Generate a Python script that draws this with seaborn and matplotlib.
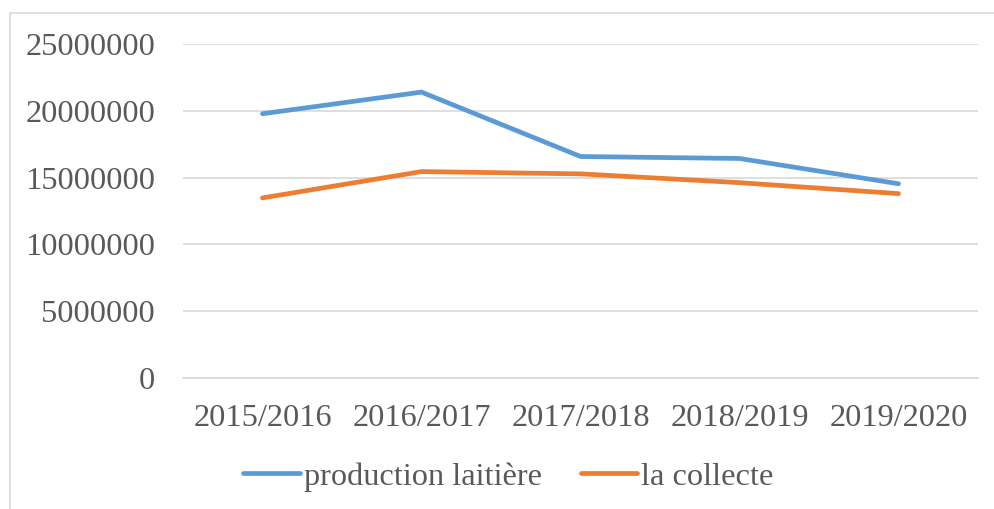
import pandas as pd
import matplotlib.pyplot as plt
import seaborn as sns
from matplotlib.patches import Rectangle

# données
campagnes = ["2015/2016", "2016/2017", "2017/2018", "2018/2019", "2019/2020"]
production_laitiere = [19780000, 21400000, 16580000, 16430000, 14540000]
collecte = [13480000, 15450000, 15280000, 14620000, 13800000]
series_labels = ["production laitière", "la collecte"]
y_ticks = [0, 5000000, 10000000, 15000000, 20000000, 25000000]

df = pd.DataFrame(
    {
        "campagne": campagnes * 2,
        "valeur": production_laitiere + collecte,
        "serie": [series_labels[0]] * len(campagnes) + [series_labels[1]] * len(campagnes),
    }
)

sns.set_theme(style="white")
plt.rcParams["font.family"] = ["Liberation Serif", "DejaVu Serif"]
FS = 23.3

fig = plt.figure(figsize=(9.94, 5.09), dpi=100)
ax = fig.add_axes([183 / 994, 1 - 378 / 509, (978 - 183) / 994, (378 - 44) / 509])

palette = {series_labels[0]: "#5b9bd5", series_labels[1]: "#ed7d31"}
sns.lineplot(
    data=df,
    x="campagne",
    y="valeur",
    hue="serie",
    palette=palette,
    linewidth=3.4,
    sort=False,
    ax=ax,
    legend=False,
    solid_capstyle="round",
    solid_joinstyle="miter",
)

ax.set_xlim(-0.5, len(campagnes) - 0.5)
ax.set_ylim(0, 25000000)
ax.set_yticks(y_ticks)
ax.set_yticklabels([str(v) for v in y_ticks])
ax.yaxis.grid(True, color="#d9d9d9", linewidth=1.2)
ax.set_axisbelow(True)
for side in ["top", "right", "left"]:
    ax.spines[side].set_visible(False)
ax.spines["bottom"].set_color("#d9d9d9")
ax.spines["bottom"].set_linewidth(1.2)
ax.tick_params(axis="both", length=0, labelsize=FS, colors="#595959")
ax.tick_params(axis="y", pad=20)
ax.tick_params(axis="x", pad=19)
ax.set_xlabel("")
ax.set_ylabel("")

# légende en bas
handles = ax.get_lines()[:2]
leg = fig.legend(
    handles,
    series_labels,
    loc="center",
    bbox_to_anchor=(0.5116, 1 - 477 / 509),
    ncol=2,
    frameon=False,
    fontsize=FS,
    handlelength=1.75,
    handletextpad=0.12,
    columnspacing=1.2,
)
for t in leg.get_texts():
    t.set_color("#595959")
for h in leg.legend_handles:
    h.set_solid_capstyle("round")

# cadre du graphique
fig.patches.append(
    Rectangle(
        (10 / 994, -0.1),
        1.2,
        (509 - 13) / 509 + 0.1,
        transform=fig.transFigure,
        fill=False,
        edgecolor="#d9d9d9",
        linewidth=1.2,
    )
)

fig.savefig("out.png", dpi=100)
